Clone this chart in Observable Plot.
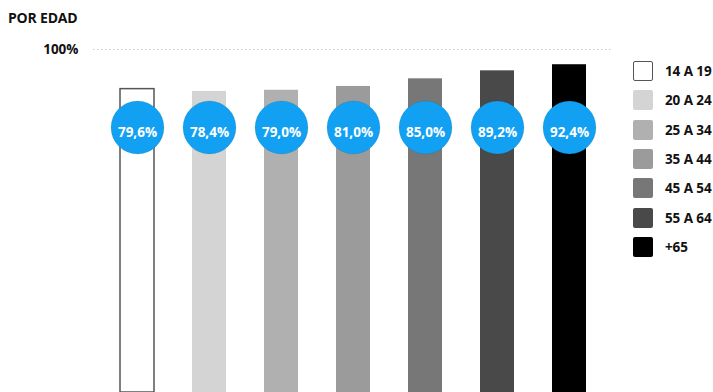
<!DOCTYPE html>
<html>
<head>
<meta charset="utf-8">
<script src="https://cdn.jsdelivr.net/npm/d3@7"></script>
<script src="https://cdn.jsdelivr.net/npm/@observablehq/plot@0.6"></script>
<style>
  body { margin: 0; background: #fff; font-family: "Open Sans", sans-serif; }
  #wrap { position: relative; width: 713px; height: 392px; overflow: hidden; }
  #title { position: absolute; left: 8px; top: 8px; font-weight: 700; font-size: 14px; color: #111; letter-spacing: -0.2px; }
  #chart { position: absolute; left: 0; top: 35px; }
  #legend { position: absolute; left: 633px; top: 61px; }
  .row { position: absolute; left: 0; height: 20px; width: 80px; }
  .sw { position: absolute; left: 0; top: 0; width: 20px; height: 20px; border-radius: 2px; box-sizing: border-box; }
  .lb { position: absolute; left: 32px; top: 1px; font-weight: 700; font-size: 13.5px; line-height: 18px; color: #111; white-space: nowrap; letter-spacing: -0.1px; }
</style>
</head>
<body>
<div id="wrap">
  <div id="title">POR EDAD</div>
  <div id="chart"></div>
  <div id="legend"></div>
</div>
<script>
const categories = ["14 A 19", "20 A 24", "25 A 34", "35 A 44", "45 A 54", "55 A 64", "+65"];
const values = [79.6, 78.4, 79.0, 81.0, 85.0, 89.2, 92.4];
const colors = ["#ffffff", "#d4d4d4", "#b0b0b0", "#9b9b9b", "#777777", "#494949", "#000000"];
const yTicks = [100];

const data = categories.map((c, i) => ({ age: c, value: values[i], color: colors[i] }));
const fmt = v => v.toFixed(1).replace(".", ",") + "%";
const yMin = -80;

const chart = Plot.plot({
  width: 713,
  height: 357,
  marginTop: 14,
  marginBottom: 0,
  marginLeft: 88,
  marginRight: 95,
  style: { fontFamily: "'Open Sans', sans-serif", background: "transparent" },
  x: { domain: categories, paddingInner: 0.532, paddingOuter: 0.413, axis: null },
  y: { domain: [yMin, 100], axis: null, label: null },
  marks: [
    Plot.ruleY(yTicks, { stroke: "#c8c8c8", strokeDasharray: "1.5,2.5", insetLeft: 5, insetRight: 6 }),
    Plot.axisY(yTicks, { label: null, tickSize: 0, tickPadding: 10, tickFormat: d => d + "%", fontWeight: "bold", fontSize: 13.5, fill: "#111" }),
    Plot.barY(data, {
      x: "age", y1: yMin, y2: "value",
      fill: d => d.color,
      stroke: (d, i) => i === 0 ? "#555" : "none",
      strokeWidth: 1.5,
      insetTop: 0.75
    }),
    Plot.dot(data, {
      x: "age", frameAnchor: "top", dy: 78, r: 26.5,
      fill: "#12a1f2", stroke: "rgba(0,0,0,0.08)", strokeWidth: 1
    }),
    Plot.text(data, {
      x: "age", frameAnchor: "top", dy: 78, text: d => fmt(d.value),
      fill: "#fff", fontWeight: "bold", fontSize: 13.5
    })
  ]
});
document.getElementById("chart").appendChild(chart);

const legend = document.getElementById("legend");
categories.forEach((c, i) => {
  const row = document.createElement("div");
  row.className = "row";
  row.style.top = (i * 29.3) + "px";
  const sw = document.createElement("div");
  sw.className = "sw";
  sw.style.background = colors[i];
  if (i === 0) sw.style.border = "1.5px solid #555";
  const lb = document.createElement("div");
  lb.className = "lb";
  lb.textContent = c;
  row.appendChild(sw);
  row.appendChild(lb);
  legend.appendChild(row);
});
</script>
</body>
</html>
